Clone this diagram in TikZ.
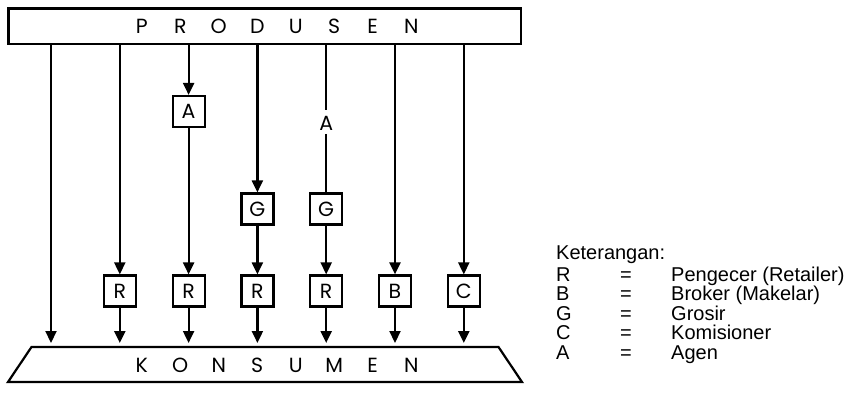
\documentclass[tikz,border=0pt]{standalone}
\usepackage{fontspec}
\usetikzlibrary{arrows.meta}
\newfontfamily\futura{Poppins}
\newfontfamily\legendfont{Liberation Sans}
\newcommand\spaced[1]{\foreach \ch in {#1}{\makebox[38.5pt]{\ch}}}

\tikzset{
  box/.style={draw,line width=2.2pt,minimum width=32pt,minimum height=31pt,inner sep=0pt,font=\futura\fontsize{20.5}{20.5}\selectfont},
  bar/.style={draw,line width=2.2pt,minimum width=512.5pt,minimum height=35.5pt,inner sep=0pt,font=\futura\fontsize{20.5}{20.5}\selectfont},
  legend/.style={inner sep=0pt,font=\legendfont\fontsize{20}{20}\selectfont}
}

\begin{document}
\begin{tikzpicture}[x=1pt,y=-1pt]
  \useasboundingbox (0,0) rectangle (855,393);

  \node[bar] (produsen) at (264.75,26.25) {\hspace{23.5pt}\raisebox{-2.75pt}{\spaced{P,R,O,D,U,S,E,N}}};

  % konsumen
  \coordinate (kbl) at (8,382);
  \coordinate (ktl) at (31.5,347);
  \coordinate (ktr) at (498.5,347);
  \coordinate (kbr) at (522,382);
  \draw[line width=2.2pt] (kbl) -- (ktl) -- (ktr) -- (kbr) -- cycle;
  \node[inner sep=0pt,font=\futura\fontsize{20.5}{20.5}\selectfont] (konsumen) at (276.5,365) {\spaced{K,O,N,S,U,M,E,N}};

  \coordinate (c1) at (51,0);
  \begin{scope}[every node/.style={box}]
    \node (A3) at (188.6,111.5) {A};
    \node (G4) at (257.4,209) {G};
    \node (G5) at (326.2,209) {G};
    \node (R2) at (119.8,291) {R};
    \node (R3) at (188.6,291) {R};
    \node (R4) at (257.4,291) {R};
    \node (R5) at (326.2,291) {R};
    \node (B6) at (395,291) {B};
    \node (C7) at (463.8,291) {C};
  \end{scope}
  \node[inner sep=3pt,font=\futura\fontsize{20.5}{20.5}\selectfont] (agen) at (326.2,123.5) {A};

  \begin{scope}[every edge/.style={draw=black,line width=2.2pt,-{Triangle[length=12pt,width=11pt]}}]
    \path (produsen.south -| c1) edge[shorten >=4pt] (ktl -| c1);
    \path (produsen.south -| R2) edge (R2);
    \path (produsen.south -| A3) edge (A3);
    \path (A3) edge (R3);
    \path (produsen.south -| G4) edge (G4);
    \path (G4) edge (R4);
    \path (G5) edge (R5);
    \path (produsen.south -| B6) edge (B6);
    \path (produsen.south -| C7) edge (C7);
    \foreach \n in {R2,R3,R4,R5,B6,C7}
      \path (\n) edge[shorten >=4pt] (ktl -| \n);
    \path (produsen.south -| agen) edge[-,shorten >=3pt] (agen);
    \path (agen) edge[-] (G5);
  \end{scope}

  % keterangan
  \node[legend,anchor=base west] (ket) at (556,259) {Keterangan:};
  \foreach \k/\t [count=\i] in {R/Pengecer (Retailer),B/Broker (Makelar),G/Grosir,C/Komisioner,A/Agen}{
    \node[legend,anchor=base west] (key\i) at (556,261.5+19.5*\i) {\k};
    \node[legend,anchor=base] (eq\i) at (626,261.5+19.5*\i) {=};
    \node[legend,anchor=base west] (desc\i) at (671,261.5+19.5*\i) {\t};
  }
\end{tikzpicture}
\end{document}
